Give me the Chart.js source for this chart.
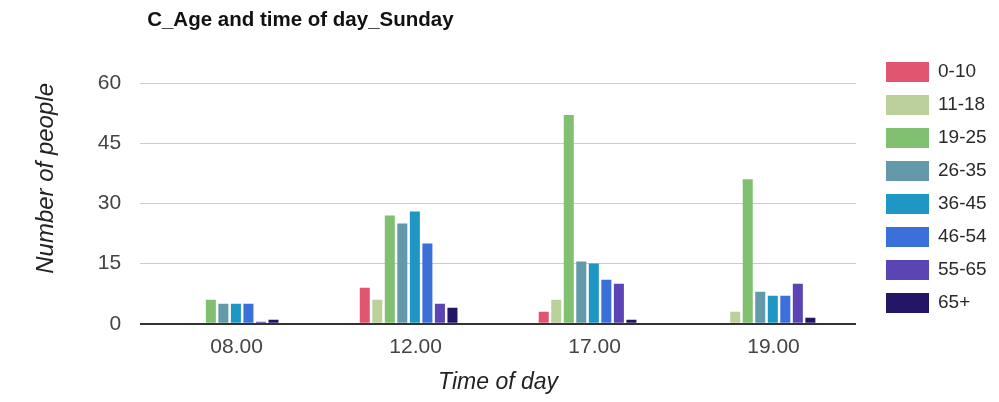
<!DOCTYPE html>
<html>
<head>
<meta charset="utf-8">
<script src="https://cdn.jsdelivr.net/npm/chart.js@4/dist/chart.umd.min.js"></script>
<style>
  html, body { margin: 0; padding: 0; background: #fff; }
  #wrap { width: 999px; height: 402px; position: relative; }
</style>
</head>
<body>
<div id="wrap"><canvas id="c" width="999" height="402"></canvas></div>
<script>
// Time slots on the x axis
const timesOfDay = ['08.00', '12.00', '17.00', '19.00'];

// Age groups (one series each)
const ageGroups = ['0-10', '11-18', '19-25', '26-35', '36-45', '46-54', '55-65', '65+'];

// Number of people per age group, one value per time slot
const age0to10  = [0, 9, 3, 0];
const age11to18 = [0, 6, 6, 3];
const age19to25 = [6, 27, 52, 36];
const age26to35 = [5, 25, 15.5, 8];
const age36to45 = [5, 28, 15, 7];
const age46to54 = [5, 20, 11, 7];
const age55to65 = [0.5, 5, 10, 10];
const age65plus = [1, 4, 1, 1.5];

// Y axis tick values
const yTicks = [0, 15, 30, 45, 60];

const seriesValues = [age0to10, age11to18, age19to25, age26to35, age36to45, age46to54, age55to65, age65plus];
const seriesColors = ['#e05570', '#bcd09c', '#80c070', '#6399a8', '#1e97c4', '#3b6fd9', '#5b44b4', '#241566'];

const FONT = "'Liberation Sans', Arial, sans-serif";

// Chart title and the right-hand legend, drawn beside the plot area
const sidePanels = {
  id: 'sidePanels',
  afterDraw(chart) {
    const ctx = chart.ctx;
    const area = chart.chartArea;
    ctx.save();
    ctx.fillStyle = '#111';
    ctx.font = 'bold 20.5px ' + FONT;
    ctx.textAlign = 'left';
    ctx.textBaseline = 'middle';
    ctx.fillText('C_Age and time of day_Sunday', area.left + 7, 20);

    ctx.font = '19px ' + FONT;
    chart.data.datasets.forEach((ds, i) => {
      const top = 62 + i * 33;
      ctx.fillStyle = ds.backgroundColor;
      ctx.fillRect(886, top, 43, 20);
      ctx.fillStyle = '#2a2a2a';
      ctx.fillText(ds.label, 938, top + 10);
    });
    ctx.restore();
  }
};

new Chart(document.getElementById('c'), {
  type: 'bar',
  data: {
    labels: timesOfDay,
    datasets: ageGroups.map((g, i) => ({
      label: g,
      data: seriesValues[i],
      backgroundColor: seriesColors[i],
      borderWidth: 0,
      categoryPercentage: 0.56,
      barPercentage: 0.8
    }))
  },
  options: {
    responsive: false,
    animation: false,
    layout: { padding: { top: 83, right: 143, bottom: 0, left: 28 } },
    plugins: {
      legend: { display: false },
      title: { display: false },
      tooltip: { enabled: false }
    },
    scales: {
      x: {
        grid: { display: false, drawTicks: false },
        border: { display: false },
        ticks: {
          color: '#444',
          font: { family: FONT, size: 21 },
          padding: 11,
          labelOffset: 7,
          maxRotation: 0
        },
        title: {
          display: true,
          text: 'Time of day',
          color: '#222',
          font: { family: FONT, size: 23, style: 'italic', lineHeight: 1 },
          padding: { top: 0, bottom: 8 }
        }
      },
      y: {
        min: 0,
        max: 60,
        afterBuildTicks(scale) {
          scale.ticks = yTicks.map(v => ({ value: v }));
        },
        grid: {
          drawTicks: false,
          color: ctx => ctx.tick && ctx.tick.value === 0 ? '#333' : '#cccccc',
          lineWidth: ctx => ctx.tick && ctx.tick.value === 0 ? 2 : 1
        },
        border: { display: false },
        ticks: {
          color: '#444',
          font: { family: FONT, size: 21 },
          padding: 19
        },
        title: {
          display: true,
          text: 'Number of people',
          align: 'end',
          color: '#222',
          font: { family: FONT, size: 24, style: 'italic' },
          padding: { top: 4, bottom: 18 }
        }
      }
    }
  },
  plugins: [sidePanels]
});
</script>
</body>
</html>
